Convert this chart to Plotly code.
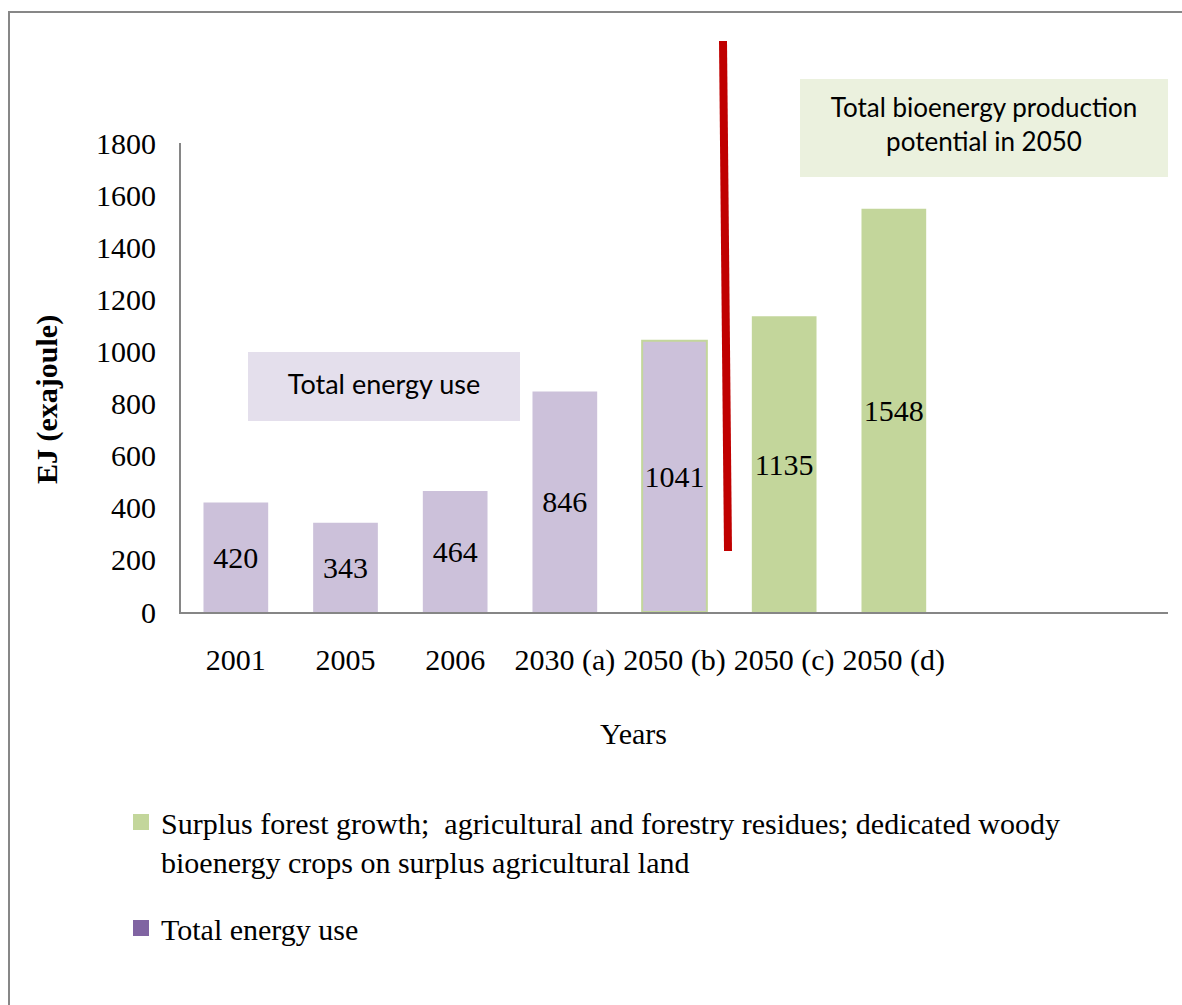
import plotly.graph_objects as go

# ---- data ----
energy_years = ["2001", "2005", "2006", "2030 (a)", "2050 (b)"]
energy_use = [420, 343, 464, 846, 1041]
bio_years = ["2050 (c)", "2050 (d)"]
bio_potential = [1135, 1548]
y_ticks = [0, 200, 400, 600, 800, 1000, 1200, 1400, 1600, 1800]
legend_bio = "Surplus forest growth;  agricultural and forestry residues; dedicated woody<br>bioenergy crops on surplus agricultural land"
legend_energy = "Total energy use"

# ---- styles ----
PURPLE = "#CCC1DA"
PURPLE_LEG = "#8064A2"
GREEN = "#C3D69B"
AXIS = "#868686"
SERIF = "Liberation Serif"
SANS = "Lato"
FS = 30

OFF = 0  # page body margin removed by post_script
W, H = 1182, 1005
# plot area in reference-page pixels
L, R, T, B = 181, 1168, 143, 612


def px(x):
    return (x - L) / (R - L)


def py(y):
    return (B - y) / (B - T)


fig = go.Figure()

fig.add_trace(go.Bar(
    x=energy_years, y=energy_use, text=[str(v) for v in energy_use],
    textposition="inside", insidetextanchor="middle", constraintext="none",
    textangle=0,
    textfont=dict(family=SERIF, size=FS, color="black"),
    marker=dict(color=PURPLE,
                line=dict(color=["rgba(0,0,0,0)"] * 4 + [GREEN], width=[0, 0, 0, 0, 2])),
    width=0.59, showlegend=False, hoverinfo="x+y",
))
fig.add_trace(go.Bar(
    x=bio_years, y=bio_potential, text=[str(v) for v in bio_potential],
    textposition="inside", insidetextanchor="middle", constraintext="none",
    textangle=0,
    textfont=dict(family=SERIF, size=FS, color="black"),
    marker=dict(color=GREEN, line=dict(width=0)),
    width=0.59, showlegend=False, hoverinfo="x+y",
))

# legend-only entries
fig.add_trace(go.Scatter(x=[None], y=[None], mode="markers", name=legend_bio,
                         marker=dict(symbol="square", size=16, color=GREEN),
                         legendgroup="a", showlegend=True))
fig.add_trace(go.Scatter(x=[None], y=[None], mode="markers", name=legend_energy,
                         marker=dict(symbol="square", size=16, color=PURPLE_LEG),
                         legendgroup="b", showlegend=True))

fig.update_layout(
    width=W, height=H,
    margin=dict(l=L - OFF, r=(W + OFF) - R, t=T - OFF, b=(H + OFF) - B, autoexpand=False),
    paper_bgcolor="white", plot_bgcolor="white",
    barmode="overlay",
    font=dict(family=SERIF, size=FS, color="black"),
    xaxis=dict(
        type="category",
        categoryorder="array", categoryarray=energy_years + bio_years,
        range=[-0.5, 8.5],
        showline=True, linecolor=AXIS, linewidth=2,
        showgrid=False, zeroline=False,
        ticks="", ticklabelstandoff=20,
        tickfont=dict(family=SERIF, size=FS, color="black"),
        fixedrange=True,
    ),
    yaxis=dict(
        range=[0, 1800], tickvals=y_ticks,
        showline=True, linecolor=AXIS, linewidth=2,
        showgrid=False, zeroline=False,
        ticks="", ticklabelstandoff=17,
        tickfont=dict(family=SERIF, size=FS, color="black"),
        fixedrange=True,
    ),
    legend=dict(
        x=px(121), y=py(796), xanchor="left", yanchor="top",
        font=dict(family=SERIF, size=FS, color="black"),
        traceorder="grouped", tracegroupgap=25, valign="top",
        bgcolor="rgba(0,0,0,0)", itemclick=False, itemdoubleclick=False,
    ),
    showlegend=True,
)

fig.add_annotation(text="<b>EJ (exajoule)</b>", xref="paper", yref="paper",
                   x=px(47), y=py(400), xanchor="center", yanchor="middle",
                   textangle=-90, showarrow=False,
                   font=dict(family=SERIF, size=FS, color="black"))
fig.add_annotation(text="Years", xref="paper", yref="paper",
                   x=px(633), y=py(733), xanchor="center", yanchor="middle",
                   showarrow=False,
                   font=dict(family=SERIF, size=FS, color="black"))

# text boxes
fig.add_annotation(text="Total energy use", xref="paper", yref="paper",
                   x=px(384), y=py(383.5), xanchor="center", yanchor="middle",
                   width=272, height=69, borderpad=0, borderwidth=0,
                   bgcolor="rgba(0,0,0,0)", showarrow=False,
                   font=dict(family=SANS, size=27, color="black"))
fig.add_annotation(text="Total bioenergy production<br>potential in 2050", xref="paper", yref="paper",
                   x=px(984), y=py(124), xanchor="center", yanchor="middle",
                   width=368, height=98, borderpad=0, borderwidth=0,
                   bgcolor="rgba(0,0,0,0)", showarrow=False,
                   font=dict(family=SANS, size=26, color="black"))
# box backgrounds
fig.add_shape(type="rect", xref="paper", yref="paper", layer="below",
              x0=px(248), y0=py(352), x1=px(520), y1=py(421),
              fillcolor="#E4DFEC", line=dict(width=0))
fig.add_shape(type="rect", xref="paper", yref="paper", layer="below",
              x0=px(800), y0=py(79), x1=px(1168), y1=py(177),
              fillcolor="#EBF1DE", line=dict(width=0))

# red divider line
fig.add_shape(type="line", xref="paper", yref="paper",
              x0=px(723), y0=py(41), x1=px(728), y1=py(551),
              line=dict(color="#C00000", width=8))

# outer frame (top and left edges; the others fall outside the picture)
fig.add_shape(type="line", xref="paper", yref="paper",
              x0=px(8), y0=py(12), x1=px(1230), y1=py(12),
              line=dict(color="#878787", width=2))
fig.add_shape(type="line", xref="paper", yref="paper",
              x0=px(9), y0=py(11), x1=px(9), y1=py(1040),
              line=dict(color="#878787", width=2))

fig.write_html(
    "out.html",
    config={"displayModeBar": False},
    post_script="document.body.style.margin='0';document.body.style.overflow='hidden';",
)
